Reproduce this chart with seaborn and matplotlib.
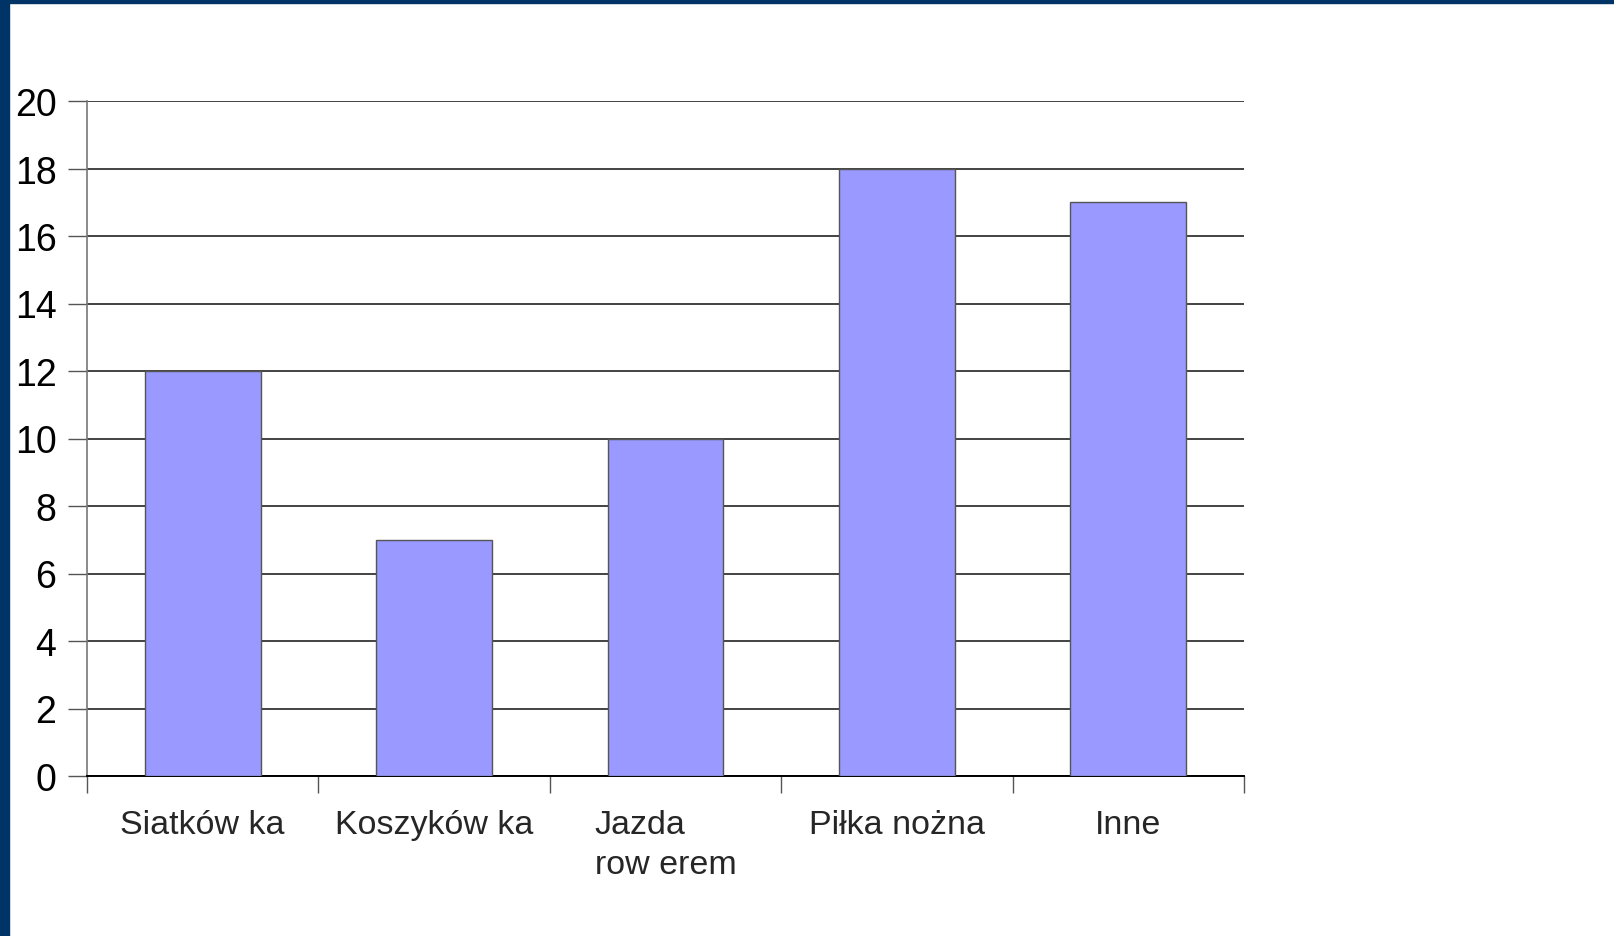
import matplotlib
matplotlib.use("Agg")
import matplotlib.pyplot as plt
from matplotlib.patches import Rectangle
import seaborn as sns
import pandas as pd

# data
categories = ["Siatków ka", "Koszyków ka", "Jazda\nrow erem", "Piłka nożna", "Inne"]
values = [12, 7, 10, 18, 17]
yticks = [0, 2, 4, 6, 8, 10, 12, 14, 16, 18, 20]

sns.set_style("white")
plt.rcParams['font.family'] = ['Liberation Sans', 'DejaVu Sans']

df = pd.DataFrame({"sport": categories, "count": values})

fig = plt.figure(figsize=(16.14, 9.37), dpi=100)
ax = fig.add_axes([87 / 1614, 1 - 777 / 937, (1244 - 87) / 1614, (777 - 102) / 937])

sns.barplot(data=df, x="sport", y="count", color="#9999ff", saturation=1,
            width=0.5, edgecolor="#555555", linewidth=1.0, ax=ax, zorder=3)

ax.set_xlim(-0.5, len(categories) - 0.5)
ax.set_ylim(0, 20)
ax.set_yticks(yticks)
ax.yaxis.grid(True, color="#222222", linewidth=1.2, zorder=0)
ax.set_axisbelow(True)
ax.set_xlabel("")
ax.set_ylabel("")

# ticks: y outward, x at category boundaries
ax.tick_params(axis="y", length=14, width=1, color="#555555", pad=8,
               labelsize=27, labelcolor="black", left=True)
ax.set_xticks(range(len(categories)))
ax.set_xticklabels(categories, fontsize=24.5, linespacing=1.35)
for lbl in ax.get_xticklabels():
    lbl.set_multialignment("left")
    lbl.set_verticalalignment("top")
ax.tick_params(axis="x", which="major", length=0, pad=24)
ax.set_xticks([i - 0.5 for i in range(len(categories) + 1)], minor=True)
ax.tick_params(axis="x", which="minor", length=12, width=1, color="#555555", bottom=True)

for s in ["top", "right"]:
    ax.spines[s].set_visible(False)
ax.spines["left"].set_color("#777777")
ax.spines["left"].set_linewidth(1.2)
ax.spines["bottom"].set_color("black")
ax.spines["bottom"].set_linewidth(1.4)

# dark blue slide frame (top and left)
fig.patches.append(Rectangle((0, 1 - 4 / 937), 1, 4 / 937, transform=fig.transFigure,
                             color="#003366", zorder=0))
fig.patches.append(Rectangle((0, 0), 9 / 1614, 1, transform=fig.transFigure,
                             color="#003366", zorder=0))

fig.savefig("out.png", dpi=100)
